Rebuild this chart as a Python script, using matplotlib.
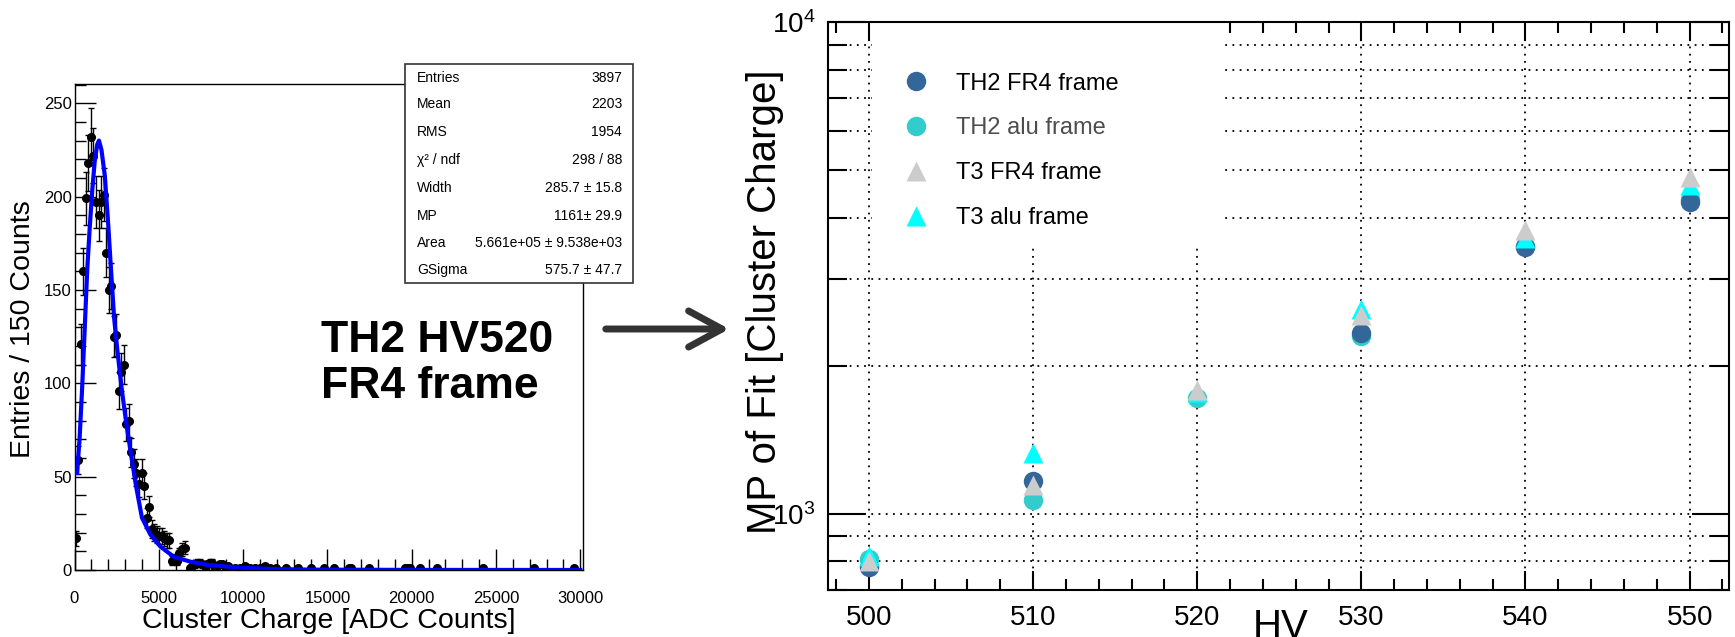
import numpy as np
import matplotlib
matplotlib.use("Agg")
import matplotlib.pyplot as plt
from matplotlib.patches import Rectangle, FancyArrowPatch
from matplotlib.ticker import MultipleLocator, LogLocator, NullFormatter

plt.rcParams['font.family'] = ['Liberation Sans', 'DejaVu Sans']

# left panel: cluster charge histogram (bin width 150 ADC)
bin_centers = [75, 225, 375, 525, 675, 825, 975, 1125, 1275, 1425, 1575, 1725, 1875, 2025,
               2175, 2325, 2475, 2625, 2775, 2925,
               3075, 3225, 3375, 3525, 3675, 3825, 3975, 4125, 4275, 4425, 4575, 4725, 4875,
               5025, 5175, 5325, 5475, 5625, 5775, 5925, 6075, 6225, 6375, 6525,
               6825, 6975, 7125, 7275, 7425, 7575, 7725, 7875, 8025, 8175, 8325, 8475, 8625,
               8775, 8925, 9075, 9225,
               9525, 9825, 10125, 10425, 10725, 11025, 11325, 11625, 11925,
               12525, 13275, 14025, 14775, 15375, 16275, 16425, 17475, 19575, 19725, 19875,
               20475, 21525, 24225, 27225, 29625]
counts = [17, 59, 121, 160, 199, 218, 232, 222, 197, 190, 197, 201, 170, 150,
          152, 125, 126, 96, 106, 110,
          78, 80, 63, 57, 52, 46, 52, 45, 28, 34, 22, 20, 19,
          18, 18, 17, 16, 16, 5, 6, 5, 9, 11, 12,
          1, 2, 3, 4, 4, 3, 2, 3, 4, 4, 1, 2, 3,
          3, 2, 2, 1,
          1, 1, 2, 1, 1, 1, 2, 1, 1,
          1, 1, 1, 1, 1, 1, 1, 1, 1, 1, 1,
          1, 1, 1, 1, 1]

# fitted curve
fit_x = [150, 300, 450, 600, 750, 900, 1050, 1200, 1350, 1450, 1600, 1800, 2000, 2150,
         2350, 2550, 2800, 3050, 3350, 3650, 4000, 4500, 5100, 5900, 6900, 7900, 9900,
         11900, 14000, 20000, 30000]
fit_y = [52, 70, 97, 128, 160, 183, 203, 219, 228, 230, 225, 211, 185, 163,
         135, 117, 97, 80, 62, 45, 28, 19, 12.5, 7, 4.4, 2.7, 1.2,
         0.5, 0.2, 0.05, 0.01]

stat_names = ['Entries', 'Mean', 'RMS', 'χ² / ndf', 'Width', 'MP', 'Area', 'GSigma']
stat_values = ['3897', '2203', '1954', '298 / 88', '285.7 ± 15.8', '1161± 29.9',
               '5.661e+05 ± 9.538e+03', '575.7 ± 47.7']

# right panel: MP of fit vs HV
hv = [500, 510, 520, 530, 540, 550]
th2_fr4 = [780, 1165, np.nan, 2330, 3490, 4300]
th2_alu = [808, 1065, 1720, 2300, 3500, 4370]
t3_alu = [820, 1330, 1770, 2610, 3640, 4660]
t3_fr4 = [803, 1145, 1786, 2535, 3780, 4840]

W, H = 1735, 637
fig = plt.figure(figsize=(W / 100, H / 100), dpi=100)

# ---------- left histogram ----------
ax1 = fig.add_axes([74.5 / W, 1 - 570 / H, (583 - 74.5) / W, (570 - 84) / H])
cnt = np.array(counts, dtype=float)
ax1.errorbar(bin_centers, cnt, yerr=np.sqrt(cnt), fmt='o', color='black', ms=5.5,
             elinewidth=1, capsize=2.5, capthick=1, zorder=2)
ax1.plot(fit_x, fit_y, color='blue', lw=3, zorder=3)
ax1.set_xlim(0, 30160)
ax1.set_ylim(0, 260.3)
ax1.xaxis.set_major_locator(MultipleLocator(5000))
ax1.xaxis.set_minor_locator(MultipleLocator(1000))
ax1.yaxis.set_major_locator(MultipleLocator(50))
ax1.yaxis.set_minor_locator(MultipleLocator(10))
ax1.tick_params(which='both', direction='in', top=False, right=False, width=1, labelsize=12)
ax1.tick_params(which='major', length=15)
ax1.tick_params(which='minor', length=8)
ax1.tick_params(axis='y', pad=2)
ax1.tick_params(axis='x', pad=15)
for s in ax1.spines.values():
    s.set_linewidth(1)

fig.text(329 / W, 1 - 621 / H, 'Cluster Charge [ADC Counts]', ha='center', va='center',
         fontsize=20.5)
fig.text(23 / W, 1 - 329 / H, 'Entries / 150 Counts', ha='center', va='center',
         rotation=90, fontsize=20.5)

fig.text(321 / W, 1 - 340 / H, 'TH2 HV520', ha='left', va='center', fontsize=32,
         fontweight='bold')
fig.text(321 / W, 1 - 387 / H, 'FR4 frame', ha='left', va='center', fontsize=32,
         fontweight='bold')

# stats box
fig.add_artist(Rectangle((405 / W, 1 - 283 / H), 228 / W, 219 / H, transform=fig.transFigure,
                         facecolor='white', edgecolor='#333333', lw=1.2))
row_y = [78, 104, 132, 160, 188, 216, 243, 270]
for name, val, yy in zip(stat_names, stat_values, row_y):
    fig.text(417 / W, 1 - yy / H, name, ha='left', va='center', fontsize=10)
    fig.text(622 / W, 1 - yy / H, val, ha='right', va='center', fontsize=10)

# arrow between panels
fig.add_artist(FancyArrowPatch((603 / W, 1 - 329 / H), (732 / W, 1 - 329 / H),
                               transform=fig.transFigure,
                               arrowstyle='->,head_length=1.2,head_width=0.65',
                               mutation_scale=20, lw=5, color='#333333'))

# ---------- right plot ----------
ax2 = fig.add_axes([828 / W, 1 - 590 / H, 901 / W, 568 / H])
ax2.set_yscale('log')
ax2.set_xlim(497.5, 552.4)
ax2.set_ylim(700, 10000)
ax2.set_axisbelow(True)
ax2.xaxis.set_major_locator(MultipleLocator(10))
ax2.xaxis.set_minor_locator(MultipleLocator(2))
ax2.yaxis.set_major_locator(LogLocator(base=10))
ax2.yaxis.set_minor_locator(LogLocator(base=10, subs=range(2, 10)))
ax2.yaxis.set_minor_formatter(NullFormatter())
grid_style = dict(color='black', linestyle=(0, (1, 3)), lw=1.3)
ax2.grid(True, which='major', axis='x', **grid_style)
ax2.grid(True, which='both', axis='y', **grid_style)
ax2.tick_params(which='both', direction='in', top=True, right=True, width=1.5, labelsize=20)
ax2.tick_params(axis='x', which='major', length=14, pad=11)
ax2.tick_params(axis='x', which='minor', length=8)
ax2.tick_params(axis='y', which='major', length=27, pad=9)
ax2.tick_params(axis='y', which='minor', length=14)
for s in ax2.spines.values():
    s.set_linewidth(1.5)

# white legend box hides the grid behind it
ax2.add_patch(Rectangle((0.0488, 0.602), 0.388, 0.398, transform=ax2.transAxes,
                        facecolor='white', edgecolor='none', zorder=1))

ax2.plot(hv, th2_fr4, 'o', color='#336699', ms=14, mec='none', zorder=3, label='TH2 FR4 frame')
ax2.plot(hv, th2_alu, 'o', color='#33cccc', ms=14, mec='none', zorder=2, label='TH2 alu frame')
ax2.plot(hv, t3_fr4, '^', color='#cccccc', ms=15, mec='none', zorder=5, label='T3 FR4 frame')
ax2.plot(hv, t3_alu, '^', color='#00ffff', ms=15, mec='none', zorder=4, label='T3 alu frame')

leg = ax2.legend(loc='upper left', bbox_to_anchor=(0.0849, 0.911), frameon=False, fontsize=17,
                 borderpad=0, borderaxespad=0, handlelength=1.0, handletextpad=1.2,
                 labelspacing=0.97)
leg.set_zorder(6)
leg.get_texts()[1].set_color('#4d4d4d')

fig.text(765 / W, 1 - 302 / H, 'MP of Fit [Cluster Charge]', ha='center', va='center',
         rotation=90, fontsize=29)
fig.text(1281 / W, -1 / H, 'HV', ha='center', va='baseline', fontsize=29)

fig.savefig('out.png', dpi=100)
